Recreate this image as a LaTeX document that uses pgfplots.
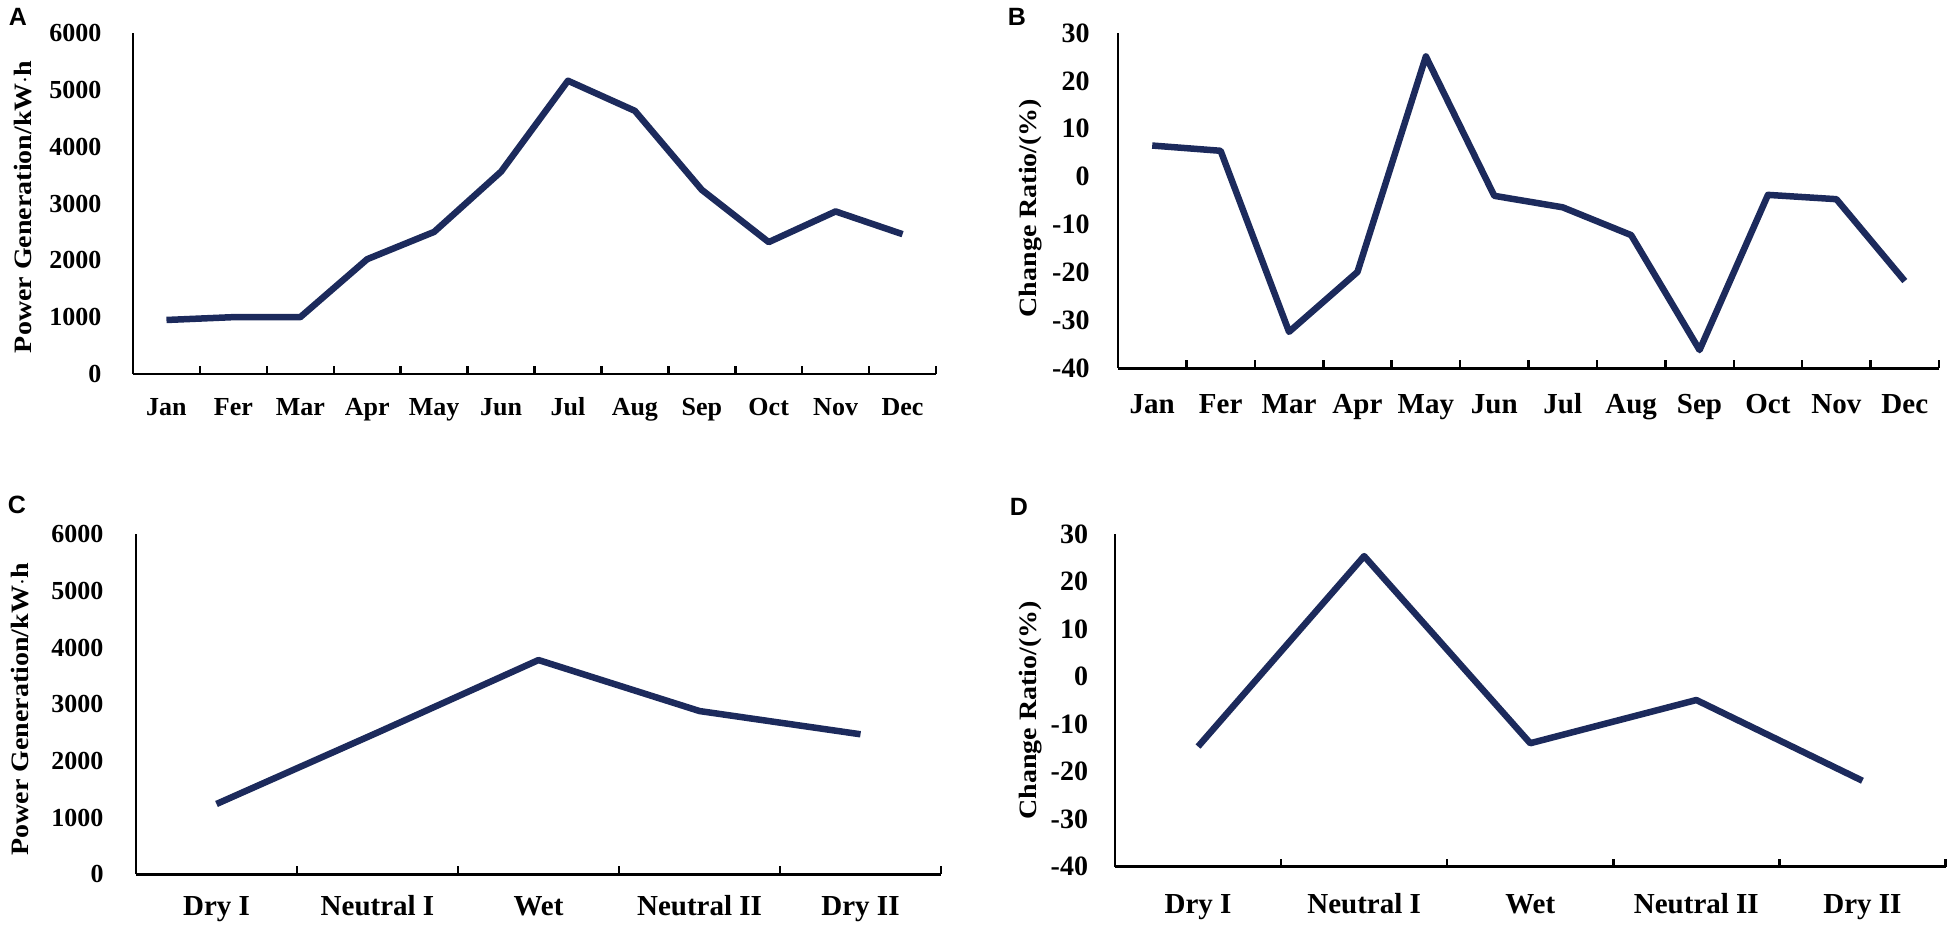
\documentclass[border=0pt]{standalone}
\usepackage{fontspec}
\setmainfont{Liberation Serif}
\setsansfont{Liberation Sans}
\newfontfamily\ylabfont[FakeStretch=1.12]{Liberation Serif}
\usepackage{pgfplots}
\pgfplotsset{compat=1.18}
\definecolor{navy}{RGB}{28,42,92}
\pgfplotsset{
  panel/.style={
    scale only axis,
    axis lines=left,
    axis line style={-, line width=1.1pt, black},
    enlargelimits=false,
    clip=false,
    tick align=inside,
    ytick style={draw=none},
    major tick length=3.2pt,
    xtick style={line width=1pt, black},
    xticklabels={},
    /pgf/number format/assume math mode=true,
    /pgf/number format/1000 sep={},
    yticklabel style={anchor=east, inner sep=0pt, font=\bfseries\fontsize{10.4}{12}\selectfont},
    extra x tick style={major tick length=0pt, xtick style={draw=none}},
    ylabel style={anchor=center, font=\ylabfont\bfseries\fontsize{10}{12}\selectfont},
  },
  navyline/.style={color=navy, line width=2.6pt, line join=round, no markers},
}
\begin{document}
\begin{tikzpicture}
\path[use as bounding box] (0,0) rectangle (780pt,370.8pt);
% Panel A
\begin{axis}[panel,
  at={(53.2pt,221.2pt)}, anchor=south west,
  width=321.2pt, height=136.4pt,
  xmin=0.5, xmax=12.5, ymin=0, ymax=6000,
  xtick={1.5,2.5,...,12.5},
  ytick={0,1000,...,6000},
  yticklabel style={xshift=-12.4pt},
  extra x ticks={1,...,12},
  extra x tick labels={Jan,Fer,Mar,Apr,May,Jun,Jul,Aug,Sep,Oct,Nov,Dec},
  xticklabel style={anchor=base, inner sep=0pt, yshift=-16.7pt, font=\bfseries\fontsize{10.4}{12}\selectfont},
  ylabel={Power Generation/kW$\cdot$h},
  ylabel style={at={(axis description cs:-0.137,0.49)}},
]
\addplot[navyline] coordinates {(1,950) (2,1000) (3,1000) (4,2020) (5,2500) (6,3560) (7,5160) (8,4630) (9,3240) (10,2320) (11,2860) (12,2460)};
\end{axis}
% Panel B
\begin{axis}[panel,
  at={(447.2pt,223.5pt)}, anchor=south west,
  width=328.4pt, height=134.1pt,
  xmin=0.5, xmax=12.5, ymin=-40, ymax=30,
  xtick={1.5,2.5,...,12.5},
  ytick={-40,-30,...,30},
  yticklabel style={xshift=-11.2pt, font=\bfseries\fontsize{11.2}{13}\selectfont},
  extra x ticks={1,...,12},
  extra x tick labels={Jan,Fer,Mar,Apr,May,Jun,Jul,Aug,Sep,Oct,Nov,Dec},
  xticklabel style={anchor=base, inner sep=0pt, yshift=-18pt, font=\bfseries\fontsize{11.6}{13}\selectfont},
  ylabel={Change Ratio/(\%)},
  ylabel style={at={(axis description cs:-0.107,0.478)}},
]
\addplot[navyline] coordinates {(1,6.5) (2,5.4) (3,-32.4) (4,-19.9) (5,25.1) (6,-4.0) (7,-6.4) (8,-12.2) (9,-36.2) (10,-3.8) (11,-4.7) (12,-21.8)};
\end{axis}
% Panel C
\begin{axis}[panel,
  at={(54.4pt,21.1pt)}, anchor=south west,
  width=322pt, height=136pt,
  xmin=0.5, xmax=5.5, ymin=0, ymax=6000,
  xtick={1.5,2.5,...,5.5},
  ytick={0,1000,...,6000},
  yticklabel style={xshift=-12.8pt},
  extra x ticks={1,...,5},
  extra x tick labels={Dry I,Neutral I,Wet,Neutral II,Dry II},
  xticklabel style={anchor=base, inner sep=0pt, yshift=-16.4pt, font=\bfseries\fontsize{11.6}{13}\selectfont},
  ylabel={Power Generation/kW$\cdot$h},
  ylabel style={at={(axis description cs:-0.144,0.485)}},
]
\addplot[navyline] coordinates {(1,1240) (2,2500) (3,3780) (4,2880) (5,2470)};
\end{axis}
% Panel D
\begin{axis}[panel,
  at={(446pt,24.1pt)}, anchor=south west,
  width=332.2pt, height=133pt,
  xmin=0.5, xmax=5.5, ymin=-40, ymax=30,
  xtick={1.5,2.5,...,5.5},
  ytick={-40,-30,...,30},
  yticklabel style={xshift=-10.6pt, font=\bfseries\fontsize{11.2}{13}\selectfont},
  extra x ticks={1,...,5},
  extra x tick labels={Dry I,Neutral I,Wet,Neutral II,Dry II},
  xticklabel style={anchor=base, inner sep=0pt, yshift=-18.8pt, font=\bfseries\fontsize{11.6}{13}\selectfont},
  ylabel={Change Ratio/(\%)},
  ylabel style={at={(axis description cs:-0.102,0.47)}},
]
\addplot[navyline] coordinates {(1,-14.7) (2,25.4) (3,-14.0) (4,-4.9) (5,-21.9)};
\end{axis}
% Panel letters
\node[font=\sffamily\bfseries\fontsize{10}{12}\selectfont, inner sep=0pt] at (7.2pt,364pt) {A};
\node[font=\sffamily\bfseries\fontsize{10}{12}\selectfont, inner sep=0pt] at (406.8pt,364pt) {B};
\node[font=\sffamily\bfseries\fontsize{10}{12}\selectfont, inner sep=0pt] at (6.8pt,168.8pt) {C};
\node[font=\sffamily\bfseries\fontsize{10}{12}\selectfont, inner sep=0pt] at (407.6pt,168pt) {D};
\end{tikzpicture}
\end{document}
